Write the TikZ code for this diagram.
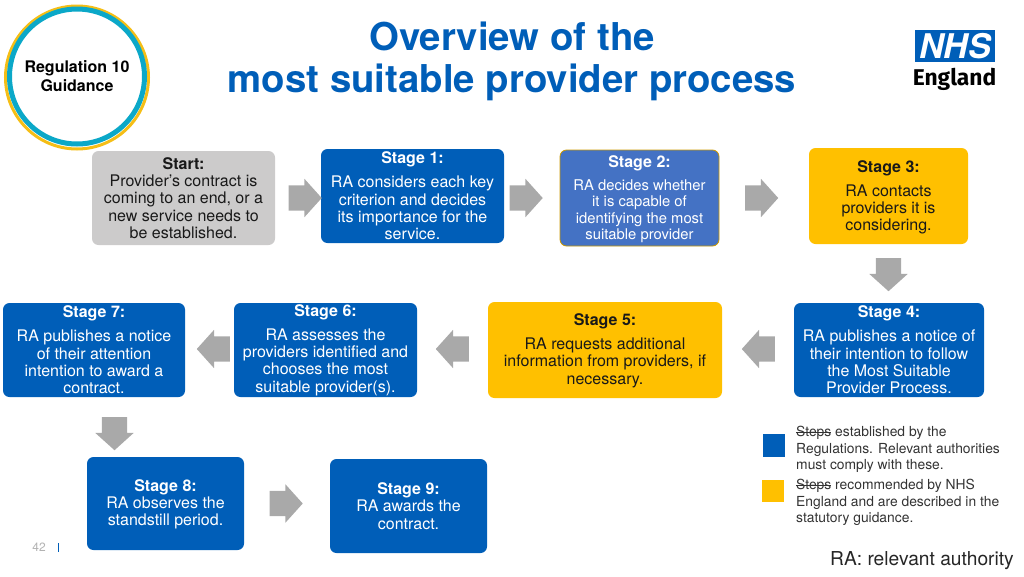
\documentclass[tikz,border=0pt]{standalone}
\usepackage{fontspec}
\setmainfont{TeX Gyre Heros}
\newfontfamily\logofont{Fira Sans}
\usetikzlibrary{shapes.arrows}
\definecolor{nhsblue}{HTML}{005EB8}
\definecolor{nhsgold}{HTML}{FFC000}
\definecolor{midblue}{HTML}{4472C4}
\definecolor{startgrey}{HTML}{CCCBCB}
\definecolor{arrgrey}{HTML}{A9A9A9}
\definecolor{ringteal}{HTML}{0BA8C8}
\definecolor{ringgold}{HTML}{F5BE16}
\newcommand{\strk}[1]{\sbox0{#1}\rlap{\rule[.3em]{\wd0}{.6pt}}\box0\relax}
\newcommand{\dn}[1]{\rule{0pt}{\dimexpr 11.5pt+2\dimexpr #1pt\relax\relax}}
\tikzset{
  stagebox/.style={rectangle,rounded corners=6.5pt,inner sep=0pt,outer sep=0pt,align=center,
    font=\fontsize{16}{17.3}\selectfont},
  bluebox/.style={stagebox,fill=nhsblue,text=white},
  goldbox/.style={stagebox,fill=nhsgold,text=black!90},
  greybox/.style={stagebox,fill=startgrey,text=black!90},
  midbox/.style={stagebox,fill=midblue,draw=nhsgold!80!black,line width=.8pt,text=white,
    font=\fontsize{14.8}{16.3}\selectfont},
  blockarrow/.style={single arrow,fill=arrgrey,draw=none,inner sep=0pt,outer sep=0pt,
    minimum height=33pt,minimum width=38pt,single arrow head extend=6.5pt,
    single arrow tip angle=96,single arrow head indent=0pt},
  arrright/.style={blockarrow},
  arrleft/.style={blockarrow,rotate=180},
  arrdown/.style={blockarrow,rotate=270},
  legendtext/.style={anchor=north west,inner sep=0pt,align=left,text=black!80,
    font=\fontsize{13.85}{16.6}\selectfont},
  titletext/.style={text=nhsblue,align=center,inner sep=0pt,font=\fontsize{38.35}{42}\selectfont\bfseries},
}
\newcommand{\tl}[1]{{\bfseries #1}}
\newcommand{\shaft}{\rule{0pt}{25pt}}
\begin{document}
\begin{tikzpicture}[x=1pt,y=-1pt]
\useasboundingbox (0,0) rectangle (1024,576);
% badge
\draw[ringgold,line width=3pt] (77,77.5) circle (71.5);
\node[circle,draw=ringteal,line width=5pt,fill=white,minimum size=135pt,inner sep=0pt,align=center,
  font=\fontsize{16}{19}\selectfont\bfseries] (badge) at (77,76.5) {Regulation 10\\Guidance};
% title
\node[titletext] (title) at (512,61) {Overview of the\\most suitable provider process};
% logo
\node[fill=nhsblue,minimum width=80pt,minimum height=32pt,inner sep=0pt,outer sep=0pt,text=white,
  font=\fontsize{34}{34}\selectfont\bfseries\itshape] (nhs) at (955,46) {NHS};
\node[inner sep=0pt,font=\logofont\fontsize{22.8}{24}\selectfont\bfseries] (eng) at (954.5,79.5) {England};
% row 1
\node[greybox,minimum width=183pt,minimum height=94pt] (s0) at (183.5,198)
  {\tl{Start:}\\Provider’s contract is\\coming to an end, or a\\new service needs to\\be established.};
\node[bluebox,minimum width=183pt,minimum height=94pt] (s1) at (412.5,196)
  {\tl{Stage 1:}\\[6.5pt]RA considers each key\\criterion and decides\\its importance for the\\service.};
\node[midbox,minimum width=159pt,minimum height=96pt] (s2) at (639.5,198)
  {\dn{1.5}{\fontsize{16}{17}\selectfont\bfseries Stage 2:}\\[6.5pt]RA decides whether\\it is capable of\\identifying the most\\suitable provider};
\node[goldbox,minimum width=159pt,minimum height=96pt] (s3) at (888.5,196)
  {\dn{1.5}\tl{Stage 3:}\\[6.5pt]RA contacts\\providers it is\\considering.};
% row 2
\node[bluebox,minimum width=190pt,minimum height=94pt] (s4) at (889,350)
  {\tl{Stage 4:}\\[6.5pt]RA publishes a notice of\\their intention to follow\\the Most Suitable\\Provider Process.};
\node[goldbox,minimum width=234pt,minimum height=96pt] (s5) at (605,350)
  {\dn{1}\tl{Stage 5:}\\[6.5pt]RA requests additional\\information from providers, if\\necessary.};
\node[bluebox,minimum width=183pt,minimum height=94pt] (s6) at (325.5,350)
  {\tl{Stage 6:}\\[6.5pt]RA assesses the\\providers identified and\\chooses the most\\suitable provider(s).};
\node[bluebox,minimum width=182pt,minimum height=94pt] (s7) at (94,350)
  {\tl{Stage 7:}\\[6.5pt]RA publishes a notice\\of their attention\\intention to award a\\contract.};
% row 3
\node[bluebox,minimum width=157pt,minimum height=93pt] (s8) at (165.5,503.5)
  {\dn{1}\tl{Stage 8:}\\RA observes the\\standstill period.};
\node[bluebox,minimum width=157pt,minimum height=94pt] (s9) at (408.5,506)
  {\tl{Stage 9:}\\RA awards the\\contract.};
% arrows
\node[arrright] (a1) at (299.5,198) {\shaft};
\node[arrright] (a2) at (520.5,198) {\shaft};
\node[arrright] (a3) at (756,198) {\shaft};
\node[arrdown]  (a4) at (888.5,269) {\shaft};
\node[arrleft]  (a5) at (764,349) {\shaft};
\node[arrleft]  (a6) at (458,349) {\shaft};
\node[arrleft]  (a7) at (219,349) {\shaft};
\node[arrdown]  (a8) at (114.5,428) {\shaft};
\node[arrright] (a9) at (280.5,503.5) {\shaft};
% legend
\fill[nhsblue] (763,434) rectangle (785,457);
\fill[nhsgold] (762,480) rectangle (784,502);
\node[legendtext] (l1) at (796,426) {\strk{Steps} established by the\\Regulations. Relevant authorities\\must comply with these.};
\node[legendtext] (l2) at (796,479) {\strk{Steps} recommended by NHS\\England and are described in the\\statutory guidance.};
\node[anchor=east,inner sep=0pt,text=black!85,font=\fontsize{19.2}{20}\selectfont] (ra) at (1014,561) {RA: relevant authority};
% page number
\node[inner sep=0pt,text=black!30,font=\fontsize{12}{14}\selectfont] (pg) at (39,547) {42};
\draw[nhsblue,line width=1pt] (58.5,543) -- (58.5,552);
\end{tikzpicture}
\end{document}
